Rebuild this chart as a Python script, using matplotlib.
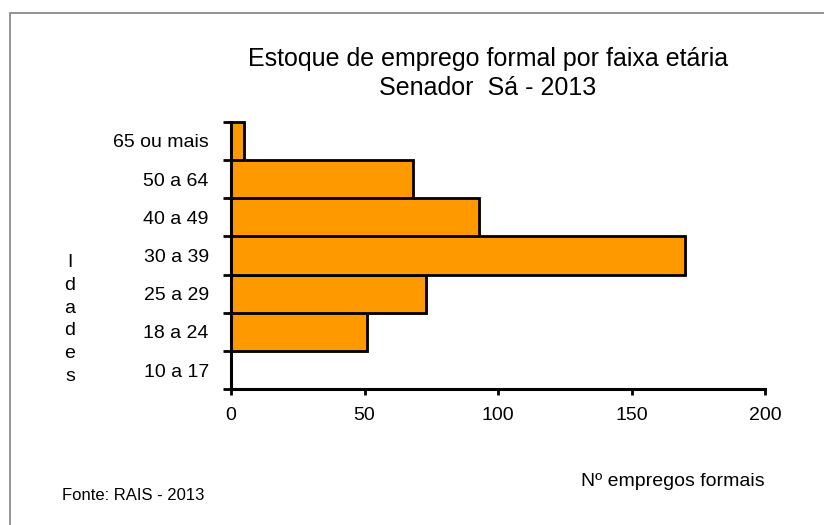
import numpy as np
import matplotlib
matplotlib.use("Agg")
import matplotlib.pyplot as plt
import matplotlib.patheffects as pe
from matplotlib.patches import Rectangle

faixas = ["10 a 17", "18 a 24", "25 a 29", "30 a 39", "40 a 49", "50 a 64", "65 ou mais"]
empregos = [0, 51, 73, 170, 93, 68, 5]
xticks = [0, 50, 100, 150, 200]

plt.rcParams["font.family"] = ["Liberation Sans", "DejaVu Sans"]

fig = plt.figure(figsize=(8.24, 5.25), dpi=100)
ax = fig.add_axes([231 / 824, 1 - 389.3 / 525, 534 / 824, 267.6 / 525])

pos = np.arange(len(faixas))
ax.barh(pos, empregos, height=1.0, color="#FF9900", edgecolor="black", linewidth=2,
        clip_on=False,
        path_effects=[pe.SimplePatchShadow(offset=(1.2, -1.2), shadow_rgbFace="#FF9900", alpha=1.0),
                      pe.Normal()])

ax.set_xlim(0, 200)
ax.set_ylim(-0.5, len(faixas) - 0.5)
for s in ["top", "right"]:
    ax.spines[s].set_visible(False)
for s in ["left", "bottom"]:
    ax.spines[s].set_linewidth(2.2)

ax.set_xticks(xticks)
ax.set_xticklabels([str(v) for v in xticks], fontsize=14)
ax.tick_params(axis="x", direction="out", length=4, width=2, pad=9)

# ticks sit on the category boundaries, labels in the middle
ax.set_yticks(np.arange(len(faixas) + 1) - 0.5)
ax.set_yticklabels([])
ax.tick_params(axis="y", which="major", direction="out", length=6, width=2)
ax.set_yticks(pos, minor=True)
ax.set_yticklabels(faixas, minor=True, fontsize=14)
ax.tick_params(axis="y", which="minor", length=0, pad=16)

ax.set_ylabel("\n".join("Idades"), rotation=0, fontsize=14, linespacing=1.45, ha="center", va="center")
ax.yaxis.set_label_coords(-0.3015, 0.261)

ax.text(1.0, -0.3464, "Nº empregos formais", transform=ax.transAxes, ha="right", va="center", fontsize=14)

fig.text(488 / 824, 1 - 59 / 525, "Estoque de emprego formal por faixa etária", ha="center", va="center", fontsize=18)
fig.text(488 / 824, 1 - 88 / 525, "Senador  Sá - 2013", ha="center", va="center", fontsize=18)
fig.text(62 / 824, 1 - 495 / 525, "Fonte: RAIS - 2013", ha="left", va="center", fontsize=12)

fig.patches.append(Rectangle((10 / 824, -0.1), 1.0, 1 - 13 / 525 + 0.1, transform=fig.transFigure,
                             fill=False, edgecolor="#808080", linewidth=1.2))

fig.savefig("out.png", dpi=100, facecolor="white")
